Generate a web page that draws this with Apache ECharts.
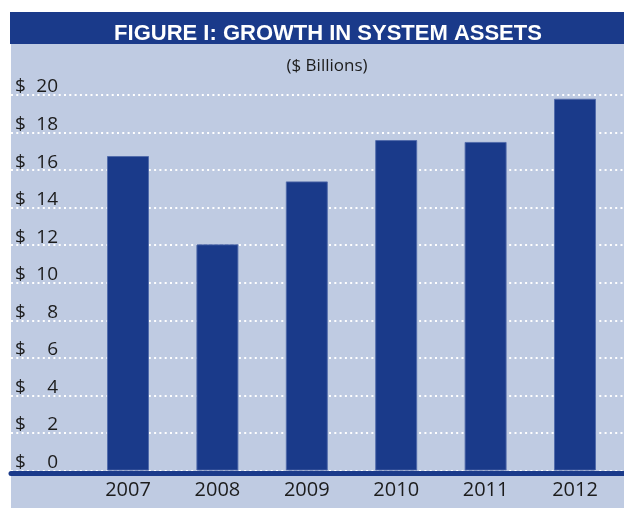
<!DOCTYPE html>
<html>
<head>
<meta charset="utf-8">
<script src="https://cdn.jsdelivr.net/npm/echarts@6/dist/echarts.min.js"></script>
<style>
  html, body { margin: 0; padding: 0; background: #ffffff; }
  #chart { width: 624px; height: 508px; }
</style>
</head>
<body>
<div id="chart"></div>
<script>
// System assets by year, in $ billions
const years = ['2007', '2008', '2009', '2010', '2011', '2012'];
const assets = [16.75, 12.05, 15.4, 17.6, 17.5, 19.8];
const yTicks = [0, 2, 4, 6, 8, 10, 12, 14, 16, 18, 20];

const titleText = 'FIGURE I: GROWTH IN SYSTEM ASSETS';
const subtitleText = '($ Billions)';

const navy = '#1a3a8a';
const panel = '#bfcbe2';
const ink = '#1c1c1c';
const font = '"Open Sans", "DejaVu Sans", sans-serif';

const chart = echarts.init(document.getElementById('chart'), null, { renderer: 'canvas' });

chart.setOption({
  animation: false,
  backgroundColor: '#ffffff',
  graphic: [
    { type: 'rect', z: -10, shape: { x: 11, y: 44, width: 613, height: 464 }, style: { fill: panel } },
    { type: 'rect', z: -10, shape: { x: 10, y: 12, width: 614, height: 32 }, style: { fill: navy } }
  ],
  title: [
    {
      text: titleText,
      left: 323, top: 29, textAlign: 'center', textVerticalAlign: 'middle',
      textStyle: { color: '#ffffff', fontFamily: '"Liberation Sans", Arial, sans-serif', fontWeight: 'bold', fontSize: 22 }
    },
    {
      text: subtitleText,
      left: 322, top: 61, textAlign: 'center', textVerticalAlign: 'middle',
      textStyle: { color: ink, fontFamily: font, fontWeight: 'normal', fontSize: 17 }
    }
  ],
  grid: [
    // full-width panel grid: dotted guides, dollar labels, base rule
    { left: 11, right: 0, top: 95, bottom: 37.4, containLabel: false },
    // bar grid
    { left: 83.3, right: 4.3, top: 95, bottom: 37.4, containLabel: false }
  ],
  xAxis: [
    {
      gridIndex: 0, type: 'value', min: 0, max: 1, offset: 3,
      axisLine: { show: true, onZero: false, lineStyle: { color: navy, width: 5 } },
      axisTick: { show: false }, axisLabel: { show: false }, splitLine: { show: false }
    },
    {
      gridIndex: 1, type: 'category', data: years,
      axisLine: { show: false }, axisTick: { show: false },
      axisLabel: { color: ink, fontFamily: font, fontSize: 20, margin: 10 }
    }
  ],
  yAxis: [
    {
      gridIndex: 0, type: 'value', min: yTicks[0], max: yTicks[yTicks.length - 1], interval: 2,
      axisLine: { show: false }, axisTick: { show: false },
      axisLabel: {
        inside: true, margin: 4, align: 'left', verticalAlign: 'middle',
        padding: [0, 0, 16, 0],
        formatter: v => '{a|$}{b|' + v + '}',
        rich: {
          a: { width: 16, align: 'left', color: ink, fontFamily: font, fontSize: 19 },
          b: { width: 27, align: 'right', color: ink, fontFamily: font, fontSize: 19 }
        }
      },
      splitLine: { show: true, lineStyle: { color: '#ffffff', width: 2, type: [2, 3.3] } }
    },
    {
      gridIndex: 1, type: 'value', min: 0, max: 20, interval: 2, show: false,
      splitLine: { show: false }
    }
  ],
  series: [
    {
      type: 'bar', xAxisIndex: 1, yAxisIndex: 1, data: assets, barWidth: 42, z: 5,
      itemStyle: { color: navy, borderColor: 'rgba(80,105,170,0.9)', borderWidth: 1 }
    }
  ]
});
</script>
</body>
</html>
